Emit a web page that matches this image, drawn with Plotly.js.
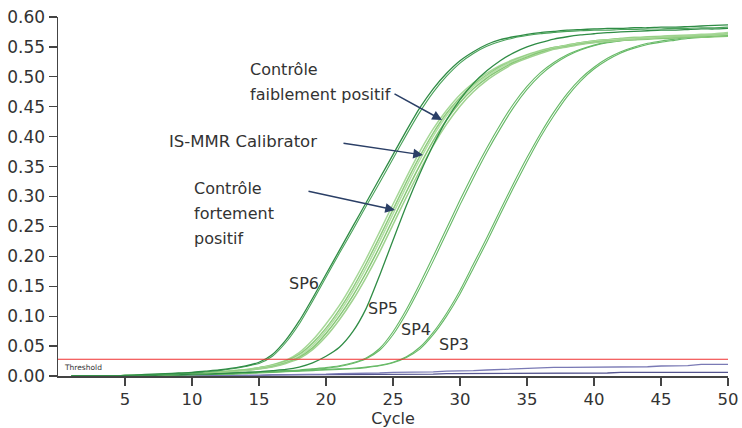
<!DOCTYPE html>
<html>
<head>
<meta charset="utf-8">
<script src="https://cdn.plot.ly/plotly-3.0.1.min.js"></script>
<style>
  html, body { margin: 0; padding: 0; background: #ffffff; }
  #chart { width: 742px; height: 428px; }
</style>
</head>
<body>
<div id="chart"></div>
<script>
// Amplification cycles
const cycles = [1,2,3,4,5,6,7,8,9,10,11,12,13,14,15,16,17,18,19,20,
  21,22,23,24,25,26,27,28,29,30,31,32,33,34,35,36,37,38,39,40,
  41,42,43,44,45,46,47,48,49,50];

// Standard SP6 (duplicate wells)
const sp6a = [0,0,0,0,0.001,0.002,0.003,0.004,0.005,0.006,
  0.008,0.010,0.013,0.017,0.023,0.036,0.060,0.092,0.130,0.170,
  0.210,0.250,0.290,0.330,0.370,0.410,0.448,0.480,0.506,0.527,
  0.542,0.554,0.562,0.567,0.571,0.574,0.576,0.578,0.579,0.580,
  0.581,0.581,0.582,0.582,0.583,0.583,0.584,0.585,0.586,0.587];
const sp6b = [0,0,0,0,0.001,0.001,0.002,0.003,0.004,0.005,
  0.007,0.009,0.012,0.016,0.021,0.033,0.056,0.087,0.125,0.165,
  0.205,0.244,0.284,0.323,0.363,0.403,0.441,0.474,0.501,0.523,
  0.539,0.551,0.559,0.565,0.569,0.572,0.574,0.576,0.577,0.578,
  0.578,0.579,0.579,0.580,0.580,0.581,0.581,0.582,0.582,0.583];

// Controls and IS-MMR calibrator wells
const ctl1 = [0,0,0,0,0.001,0.001,0.002,0.003,0.004,0.004,
  0.005,0.007,0.009,0.011,0.014,0.019,0.026,0.039,0.060,0.087,
  0.118,0.155,0.196,0.241,0.287,0.332,0.375,0.413,0.444,0.470,
  0.490,0.506,0.519,0.529,0.537,0.544,0.549,0.553,0.557,0.560,
  0.562,0.564,0.566,0.567,0.568,0.569,0.570,0.571,0.572,0.574];
const ctl2 = [0,0,0,0,0.001,0.001,0.002,0.003,0.003,0.004,
  0.005,0.006,0.008,0.010,0.014,0.018,0.025,0.036,0.055,0.080,
  0.111,0.147,0.188,0.232,0.278,0.324,0.367,0.406,0.439,0.465,
  0.487,0.503,0.517,0.527,0.536,0.543,0.549,0.553,0.557,0.560,
  0.562,0.564,0.565,0.566,0.567,0.568,0.568,0.569,0.570,0.571];
const ctl3 = [0,0,0,0,0.001,0.001,0.002,0.003,0.003,0.004,
  0.005,0.006,0.008,0.010,0.013,0.017,0.023,0.033,0.051,0.076,
  0.106,0.141,0.181,0.225,0.271,0.317,0.361,0.401,0.435,0.462,
  0.484,0.501,0.515,0.526,0.535,0.542,0.548,0.552,0.556,0.559,
  0.561,0.563,0.564,0.565,0.566,0.567,0.568,0.569,0.570,0.571];
const ctl4 = [0,0,0,0,0,0.001,0.002,0.002,0.003,0.004,
  0.005,0.006,0.008,0.010,0.012,0.016,0.022,0.031,0.047,0.071,
  0.100,0.134,0.173,0.216,0.262,0.308,0.352,0.393,0.428,0.457,
  0.480,0.498,0.512,0.524,0.533,0.541,0.547,0.551,0.555,0.558,
  0.560,0.561,0.562,0.563,0.564,0.565,0.566,0.566,0.567,0.568];
const ctl5 = [0,0,0,0,0,0.001,0.001,0.002,0.003,0.003,
  0.004,0.005,0.007,0.009,0.012,0.015,0.021,0.029,0.044,0.066,
  0.094,0.127,0.165,0.207,0.253,0.299,0.343,0.385,0.421,0.451,
  0.475,0.494,0.509,0.522,0.531,0.539,0.546,0.550,0.554,0.557,
  0.559,0.561,0.563,0.564,0.566,0.567,0.568,0.569,0.570,0.572];

// Standard SP5
const sp5 = [0,0,0,0,0,0.001,0.001,0.002,0.002,0.003,
  0.003,0.004,0.005,0.006,0.007,0.009,0.011,0.015,0.022,0.033,
  0.048,0.074,0.113,0.168,0.227,0.285,0.338,0.386,0.428,0.462,
  0.489,0.510,0.527,0.540,0.550,0.557,0.563,0.567,0.570,0.572,
  0.574,0.575,0.576,0.577,0.578,0.578,0.579,0.580,0.580,0.581];

// Standard SP4 (duplicate wells)
const sp4a = [0,0,0,0,0,0.001,0.001,0.002,0.002,0.003,
  0.003,0.004,0.005,0.006,0.007,0.008,0.009,0.010,0.012,0.014,
  0.017,0.022,0.030,0.046,0.074,0.111,0.154,0.200,0.247,0.294,
  0.339,0.381,0.420,0.455,0.484,0.507,0.524,0.537,0.546,0.553,
  0.558,0.561,0.563,0.565,0.566,0.567,0.568,0.569,0.570,0.571];
const sp4b = [0,0,0,0,0,0.001,0.001,0.001,0.002,0.002,
  0.003,0.003,0.004,0.005,0.006,0.007,0.008,0.009,0.011,0.013,
  0.016,0.021,0.029,0.043,0.069,0.105,0.147,0.192,0.239,0.286,
  0.331,0.374,0.413,0.449,0.479,0.503,0.521,0.535,0.545,0.552,
  0.557,0.560,0.562,0.564,0.565,0.566,0.567,0.568,0.569,0.570];

// Standard SP3 (duplicate wells)
const sp3a = [0,0,0,0,0,0.001,0.001,0.002,0.002,0.002,
  0.003,0.003,0.004,0.005,0.006,0.007,0.008,0.009,0.010,0.011,
  0.012,0.013,0.015,0.018,0.023,0.032,0.048,0.073,0.105,0.143,
  0.187,0.231,0.277,0.322,0.365,0.405,0.441,0.472,0.497,0.516,
  0.531,0.542,0.550,0.556,0.560,0.563,0.566,0.568,0.570,0.571];
const sp3b = [0,0,0,0,0,0,0.001,0.001,0.002,0.002,
  0.002,0.003,0.003,0.004,0.005,0.006,0.007,0.008,0.009,0.010,
  0.011,0.012,0.014,0.017,0.022,0.031,0.045,0.069,0.100,0.137,
  0.180,0.224,0.270,0.315,0.358,0.399,0.435,0.467,0.493,0.513,
  0.528,0.540,0.548,0.554,0.558,0.561,0.564,0.566,0.568,0.569];

// Negative wells (no amplification)
const neg1 = [0,0,0,0,0,0,0,0,0,0,
  0,0,0.001,0.001,0.001,0.002,0.002,0.002,0.003,0.003,
  0.004,0.004,0.005,0.005,0.006,0.006,0.007,0.007,0.008,0.008,
  0.009,0.010,0.011,0.012,0.013,0.014,0.0145,0.0145,0.0145,0.0145,
  0.0145,0.015,0.015,0.0155,0.0167,0.0167,0.0175,0.0195,0.0195,0.0195];
const neg2 = [0,0,0,0,0,0,0,0,0,0.001,
  0.001,0.001,0.001,0.001,0.001,0.002,0.002,0.002,0.002,0.002,
  0.002,0.002,0.003,0.003,0.003,0.003,0.003,0.003,0.004,0.004,
  0.004,0.004,0.004,0.004,0.004,0.005,0.005,0.005,0.005,0.005,
  0.005,0.006,0.006,0.006,0.006,0.006,0.006,0.006,0.006,0.006];

const threshold = 0.028;
const xTicks = [5,10,15,20,25,30,35,40,45,50];
const yTicks = [0,0.05,0.10,0.15,0.20,0.25,0.30,0.35,0.40,0.45,0.50,0.55,0.60];

const FONT = 'DejaVu Sans, Liberation Sans, sans-serif';
const TXT = '#333333';

function curve(y, color, width, shape) {
  return {
    x: cycles, y: y, type: 'scatter', mode: 'lines',
    line: { color: color, width: width, shape: shape || 'spline', smoothing: 0.6 },
    hoverinfo: 'skip', showlegend: false
  };
}

const data = [
  curve(neg2, '#55558f', 1.3, 'linear'),
  curve(neg1, '#7a7ab5', 1.3, 'linear'),
  curve(sp3a, '#66b966', 1.1),
  curve(sp3b, '#66b966', 1.1),
  curve(sp4a, '#66b966', 1.1),
  curve(sp4b, '#66b966', 1.1),
  curve(ctl1, '#a6d897', 1.5),
  curve(ctl2, '#8fcc7e', 1.5),
  curve(ctl3, '#b4dea6', 1.5),
  curve(ctl4, '#86c775', 1.5),
  curve(ctl5, '#9fd28f', 1.5),
  curve(sp5, '#2f8c45', 1.3),
  curve(sp6b, '#4aa35a', 1.1),
  curve(sp6a, '#2f8c45', 1.3)
];

// Helpers to place text by pixel position inside the plot area
const L = 58, R = 14, T = 17, B = 52, W = 742, H = 428;
const pw = W - L - R, ph = H - T - B;
const px2x = p => (p - L) / pw * 50;
const py2y = p => (H - B - p) / ph * 0.6;

function label(text, px, py, size, anchor) {
  return {
    x: px2x(px), y: py2y(py), xref: 'x', yref: 'y',
    text: text, showarrow: false, xanchor: anchor || 'left', yanchor: 'middle',
    font: { family: FONT, size: size, color: TXT }
  };
}
function arrow(x0, y0, x1, y1) {
  return {
    x: px2x(x1), y: py2y(y1), ax: px2x(x0), ay: py2y(y0),
    xref: 'x', yref: 'y', axref: 'x', ayref: 'y', text: '',
    showarrow: true, arrowhead: 2, arrowsize: 1.3, arrowwidth: 1.5,
    arrowcolor: '#2b3f66', standoff: 0
  };
}

const annotations = [
  label('Contrôle', 248, 69.5, 16),
  label('faiblement positif', 248, 94.5, 16),
  label('IS-MMR Calibrator', 167, 141, 16.5),
  label('Contrôle', 192, 188, 16),
  label('fortement', 192, 213, 16),
  label('positif', 192, 238, 16),
  arrow(393, 93, 442, 120),
  arrow(342, 143, 423, 155),
  arrow(307, 191, 395, 210),
  label('SP6', 304, 283.5, 16, 'center'),
  label('SP5', 383, 308, 16, 'center'),
  label('SP4', 416, 329, 16, 'center'),
  label('SP3', 454, 344.5, 16, 'center'),
  label('Threshold', 62, 367, 7.5)
];

const layout = {
  width: W, height: H,
  margin: { l: L, r: R, t: T, b: B, pad: 0 },
  paper_bgcolor: '#ffffff', plot_bgcolor: '#ffffff',
  font: { family: FONT, size: 16, color: TXT },
  xaxis: {
    range: [0, 50], tickmode: 'array', tickvals: xTicks,
    ticks: 'outside', ticklen: 8, tickwidth: 1.2, tickcolor: '#444',
    showline: true, linecolor: '#444', linewidth: 1.5,
    showgrid: false, zeroline: false,
    tickfont: { family: FONT, size: 16.5, color: TXT },
    title: { text: 'Cycle', font: { family: FONT, size: 16, color: TXT }, standoff: 0 }
  },
  yaxis: {
    range: [0, 0.6], tickmode: 'array', tickvals: yTicks, tickformat: '.2f',
    ticks: 'outside', ticklen: 8, tickwidth: 1.2, tickcolor: '#444',
    showline: true, linecolor: '#444', linewidth: 1.5,
    showgrid: false, zeroline: false,
    tickfont: { family: FONT, size: 17, color: TXT }
  },
  shapes: [{
    type: 'line', xref: 'paper', yref: 'y', x0: 0, x1: 1, y0: threshold, y1: threshold,
    line: { color: '#f03030', width: 1 }, layer: 'above'
  }],
  annotations: annotations
};

Plotly.newPlot('chart', data, layout, { displayModeBar: false, staticPlot: true });
</script>
</body>
</html>
